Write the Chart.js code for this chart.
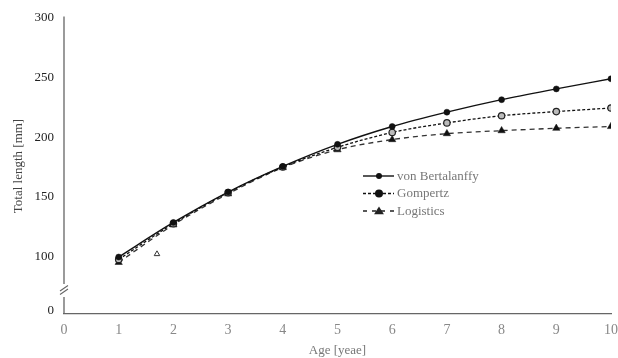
<!DOCTYPE html>
<html>
<head>
<meta charset="utf-8">
<script src="https://cdn.jsdelivr.net/npm/chart.js@4/dist/chart.umd.min.js"></script>
<style>
  html, body { margin: 0; padding: 0; background: #fff; }
  #wrap { width: 618px; height: 358px; }
</style>
</head>
<body>
<div id="wrap"><canvas id="c" width="618" height="358"></canvas></div>
<script>
// ---- data ----
const ages = [1, 2, 3, 4, 5, 6, 7, 8, 9, 10];
const vonBertalanffy = [99.5, 128.5, 154, 175.5, 194, 209, 221, 231.5, 240.5, 249];
const gompertz       = [97.5, 127.5, 153.5, 175, 191.5, 204, 212, 218, 221.5, 224.5];
const logistics      = [95, 126.5, 152.5, 174.5, 189.5, 198, 203, 205.5, 207.5, 209];
const strayAge = [1.7];
const strayValue = [102];
const xTicks = [0, 1, 2, 3, 4, 5, 6, 7, 8, 9, 10];
const yTicks = [100, 150, 200, 250, 300];
const yBreakLabel = '0';
const yBreakValue = 54.4;   // position on the broken axis where "0" is shown
const seriesNames = ['von Bertalanffy', 'Gompertz', 'Logistics'];

const FONT = "'Liberation Serif', 'Times New Roman', serif";
const pts = (xs, ys) => xs.map((x, i) => ({ x: x, y: ys[i] }));

const axisPlugin = {
  id: 'axisBreakAndLegend',
  afterDraw(chart) {
    const ctx = chart.ctx;
    const a = chart.chartArea;
    const L = a.left;
    ctx.save();
    // broken y axis
    ctx.strokeStyle = '#666';
    ctx.lineWidth = 1.3;
    ctx.beginPath();
    ctx.moveTo(L, a.top - 1.5); ctx.lineTo(L, 284);
    ctx.moveTo(L, 297); ctx.lineTo(L, a.bottom);
    ctx.stroke();
    ctx.lineWidth = 1.1;
    ctx.beginPath();
    ctx.moveTo(L - 4, 291); ctx.lineTo(L + 4, 285.5);
    ctx.moveTo(L - 4, 294.5); ctx.lineTo(L + 4, 289);
    ctx.stroke();

    // custom legend
    const items = [
      { dash: [], marker: 'circle', r: 3, color: '#111', lw: 1.4 },
      { dash: [3, 2], marker: 'circle', r: 4, color: '#111', lw: 1.3 },
      { dash: [4, 5], marker: 'triangle', r: 4.5, color: '#222', lw: 1.3 }
    ];
    const x0 = 363, x1 = 394, xm = 379, tx = 397;
    const ys = [176, 193.5, 211];
    items.forEach((it, i) => {
      const y = ys[i];
      ctx.strokeStyle = it.color;
      ctx.lineWidth = it.lw;
      ctx.setLineDash(it.dash);
      ctx.beginPath(); ctx.moveTo(x0, y); ctx.lineTo(x1, y); ctx.stroke();
      ctx.setLineDash([]);
      ctx.fillStyle = it.color;
      ctx.beginPath();
      if (it.marker === 'circle') {
        ctx.arc(xm, y, it.r, 0, Math.PI * 2);
      } else {
        ctx.moveTo(xm, y - it.r); ctx.lineTo(xm + it.r * 1.1, y + it.r * 0.7); ctx.lineTo(xm - it.r * 1.1, y + it.r * 0.7); ctx.closePath();
      }
      ctx.fill();
      ctx.fillStyle = '#777';
      ctx.font = '13px ' + FONT;
      ctx.textBaseline = 'middle';
      ctx.textAlign = 'left';
      ctx.fillText(seriesNames[i], tx, y + 0.5);
    });
    ctx.restore();
  }
};

new Chart(document.getElementById('c'), {
  type: 'scatter',
  data: {
    datasets: [
      {
        label: seriesNames[0],
        data: pts(ages, vonBertalanffy),
        showLine: true,
        cubicInterpolationMode: 'monotone',
        borderColor: '#111',
        borderWidth: 1.4,
        pointStyle: 'circle',
        pointRadius: 3,
        pointBackgroundColor: '#111',
        pointBorderColor: '#111',
        pointBorderWidth: 0.5
      },
      {
        label: seriesNames[1],
        data: pts(ages, gompertz),
        showLine: true,
        cubicInterpolationMode: 'monotone',
        borderColor: '#111',
        borderWidth: 1.3,
        borderDash: [3, 2],
        pointStyle: 'circle',
        pointRadius: 3.2,
        pointBackgroundColor: '#bbb',
        pointBorderColor: '#222',
        pointBorderWidth: 1.2
      },
      {
        label: seriesNames[2],
        data: pts(ages, logistics),
        showLine: true,
        cubicInterpolationMode: 'monotone',
        borderColor: '#333',
        borderWidth: 1.3,
        borderDash: [5, 4],
        pointStyle: 'triangle',
        pointRadius: 4.2,
        pointBackgroundColor: '#111',
        pointBorderColor: '#111',
        pointBorderWidth: 0.5
      },
      {
        label: 'stray',
        data: pts(strayAge, strayValue),
        showLine: false,
        pointStyle: 'triangle',
        pointRadius: 3.2,
        pointBackgroundColor: '#fff',
        pointBorderColor: '#333',
        pointBorderWidth: 1
      }
    ]
  },
  options: {
    responsive: false,
    animation: false,
    devicePixelRatio: 1,
    layout: { padding: { left: 0, right: 7, top: 18, bottom: 0 } },
    plugins: { legend: { display: false }, tooltip: { enabled: false } },
    scales: {
      x: {
        type: 'linear',
        min: 0, max: 10,
        afterBuildTicks: s => { s.ticks = xTicks.map(v => ({ value: v })); },
        afterFit: s => { s.height = 44; s.paddingRight = 0; s.paddingLeft = 0; },
        grid: { display: false, drawTicks: false },
        border: { display: true, color: '#666', width: 1.3 },
        ticks: { color: '#888', font: { family: FONT, size: 14 }, padding: 8, maxRotation: 0 },
        title: { display: true, text: 'Age [yeae]', color: '#777', font: { family: FONT, size: 13 }, padding: { top: 0, bottom: 0 } }
      },
      y: {
        type: 'linear',
        min: 51.7, max: 300,
        afterBuildTicks: s => { s.ticks = [{ value: yBreakValue }].concat(yTicks.map(v => ({ value: v }))); },
        afterFit: s => { s.width = 64; s.paddingTop = 0; s.paddingBottom = 0; },
        grid: { display: false, drawTicks: false },
        border: { display: false },
        ticks: {
          color: '#222', font: { family: FONT, size: 13 }, padding: 10,
          callback: v => (v === yBreakValue ? yBreakLabel : String(v))
        },
        title: { display: true, text: 'Total length [mm]', color: '#444', font: { family: FONT, size: 13 }, padding: { top: 11, bottom: 0 } }
      }
    }
  },
  plugins: [axisPlugin]
});
</script>
</body>
</html>
